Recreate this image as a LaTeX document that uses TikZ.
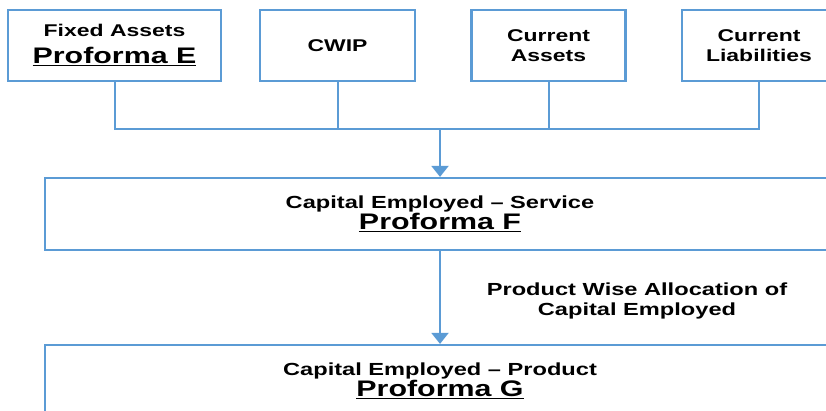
\documentclass[tikz,border=0pt]{standalone}
\usepackage{fontspec}
\setmainfont{Liberation Sans}[FakeStretch=1.35]
\usetikzlibrary{shapes,arrows.meta,calc,positioning}
\definecolor{lineblue}{RGB}{91,155,213}
\tikzset{
  topbox/.style={draw=lineblue, line width=2.2pt, minimum width=154pt, minimum height=71pt,
    inner sep=0pt, align=center, font=\bfseries\fontsize{17}{20}\selectfont},
  widebox/.style={topbox, minimum width=790pt, minimum height=72pt,
    font=\bfseries\fontsize{17.5}{21}\selectfont},
  link/.style={draw=lineblue, line width=2pt},
  flow/.style={link, -{Triangle[width=17pt,length=11pt]}}
}
% big underlined form name
\newcommand{\pform}[1]{{\fontsize{22.5}{21}\selectfont\setbox0=\hbox{#1}%
    \rlap{\rule[-2.6pt]{\wd0}{1.6pt}}\box0}}

\begin{document}
\begin{tikzpicture}[x=1pt,y=-1pt]
    \useasboundingbox (0,0) rectangle (826,410);
    \begin{scope}
        \clip (0,0) rectangle (826,410);
        % top row
        \node[topbox, minimum width=213pt] (fa) at (114.5,45.5) {Fixed Assets\\[7pt]\pform{Proforma E}};
        \node[topbox, minimum width=155pt] (cwip) at (337.5,45.5) {CWIP};
        \node[topbox] (ca) at (548.5,45.5) {Current\\Assets};
        \node[topbox] (cl) at (759,45.5) {Current\\Liabilities};
        \coordinate (bus) at (440,129);
        \foreach \n in {fa,cwip,ca,cl}
            \draw[link] (\n.south) |- (bus);
        % capital employed
        \node[widebox] (cef) at (440,214) {Capital Employed -- Service\\\pform{Proforma F}};
        \node[widebox] (ceg) at (440,381) {Capital Employed -- Product\\\pform{Proforma G}};
        \draw[flow] (bus) -- (cef.north);
        \draw[flow] (cef.south) -- (ceg.north);
        \node[align=center, font=\bfseries\fontsize{17.5}{20}\selectfont] (alloc) at (637,301)
            {Product Wise Allocation of\\Capital Employed};
    \end{scope}
\end{tikzpicture}
\end{document}
